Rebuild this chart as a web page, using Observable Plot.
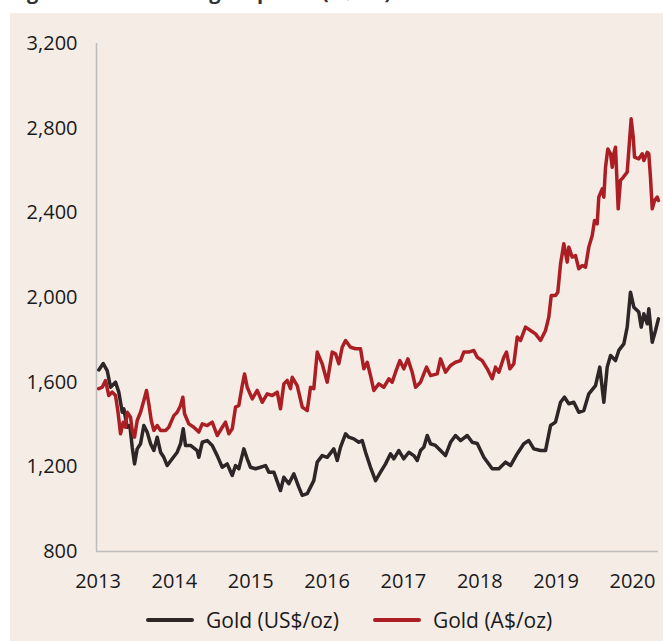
<!DOCTYPE html>
<html>
<head>
<meta charset="utf-8">
<script src="https://cdn.jsdelivr.net/npm/d3@7"></script>
<script src="https://cdn.jsdelivr.net/npm/@observablehq/plot@0.6"></script>
<style>
  html, body { margin: 0; padding: 0; background: #ffffff; width: 663px; height: 641px; overflow: hidden; font-family: "Open Sans", sans-serif; }
  #title { position: absolute; left: 10px; top: -18px; font: bold 20px/20px "Open Sans", sans-serif; color: #333333; white-space: nowrap; }
  #panel { position: absolute; left: 10px; top: 13px; width: 653px; height: 628px; background: #f5ece6; }
  #chart { position: absolute; left: 0; top: 0; }
  #legend { position: absolute; left: 136px; top: 594px; height: 26px; display: flex; align-items: center; font-size: 21px; color: #1a1a1a; white-space: nowrap; }
  .item { display: flex; align-items: center; }
  .sw { display: inline-block; width: 48px; height: 4px; border-radius: 2px; margin-right: 12px; }
</style>
</head>
<body>
<div id="title">Figure 4: Australian gold prices (A$/oz)</div>
<div id="panel">
  <div id="chart"></div>
  <div id="legend">
    <span class="item"><span class="sw" style="background:#2e2527"></span><span>Gold (US$/oz)</span></span>
    <span class="item" style="margin-left:34px"><span class="sw" style="background:#ab1f24"></span><span>Gold (A$/oz)</span></span>
  </div>
</div>
<script>
// Gold price, US$/oz (decimal year, value)
const usdYears = [2013.010,2013.068,2013.120,2013.164,2013.229,2013.272,2013.317,2013.338,2013.382,2013.417,2013.448,2013.478,2013.513,2013.557,2013.600,2013.644,2013.688,2013.731,2013.775,2013.819,2013.862,2013.906,2013.972,2014.037,2014.081,2014.116,2014.146,2014.212,2014.299,2014.320,2014.365,2014.430,2014.496,2014.561,2014.627,2014.692,2014.758,2014.801,2014.844,2014.910,2014.954,2014.997,2015.063,2015.128,2015.194,2015.237,2015.303,2015.390,2015.434,2015.499,2015.565,2015.630,2015.675,2015.740,2015.783,2015.826,2015.871,2015.936,2016.002,2016.088,2016.133,2016.176,2016.242,2016.285,2016.350,2016.416,2016.460,2016.504,2016.569,2016.635,2016.700,2016.766,2016.831,2016.874,2016.940,2017.005,2017.071,2017.136,2017.181,2017.224,2017.267,2017.312,2017.355,2017.420,2017.486,2017.551,2017.617,2017.682,2017.748,2017.836,2017.901,2017.967,2018.053,2018.163,2018.250,2018.337,2018.403,2018.491,2018.577,2018.642,2018.708,2018.796,2018.861,2018.927,2018.992,2019.058,2019.110,2019.166,2019.232,2019.297,2019.363,2019.428,2019.516,2019.572,2019.625,2019.669,2019.713,2019.778,2019.821,2019.887,2019.931,2019.974,2020.018,2020.083,2020.115,2020.149,2020.193,2020.214,2020.259,2020.302,2020.340];
const usdValues = [1658,1688,1655,1576,1600,1553,1458,1474,1387,1395,1293,1214,1285,1309,1395,1364,1309,1277,1340,1269,1245,1206,1238,1269,1309,1380,1301,1301,1277,1245,1316,1324,1301,1253,1198,1214,1159,1206,1191,1285,1238,1198,1191,1198,1206,1175,1175,1088,1151,1120,1167,1104,1065,1073,1104,1135,1222,1253,1245,1285,1230,1293,1356,1340,1332,1316,1324,1269,1198,1135,1175,1214,1262,1238,1277,1238,1269,1253,1230,1277,1293,1348,1309,1301,1277,1253,1316,1348,1324,1348,1316,1310,1245,1191,1191,1222,1206,1262,1309,1324,1285,1277,1277,1395,1411,1505,1529,1498,1505,1458,1466,1545,1584,1671,1505,1671,1726,1702,1750,1781,1860,2025,1954,1931,1860,1923,1876,1947,1789,1844,1899];

// Gold price, A$/oz (decimal year, value)
const audYears = [2013.010,2013.055,2013.098,2013.141,2013.186,2013.229,2013.259,2013.295,2013.330,2013.360,2013.382,2013.426,2013.448,2013.478,2013.513,2013.557,2013.600,2013.635,2013.665,2013.697,2013.731,2013.775,2013.819,2013.884,2013.927,2013.993,2014.037,2014.081,2014.111,2014.133,2014.189,2014.255,2014.320,2014.365,2014.430,2014.496,2014.561,2014.627,2014.670,2014.713,2014.758,2014.801,2014.844,2014.889,2014.919,2014.954,2015.020,2015.085,2015.151,2015.216,2015.282,2015.347,2015.390,2015.434,2015.478,2015.521,2015.544,2015.609,2015.675,2015.740,2015.783,2015.826,2015.871,2015.936,2016.002,2016.067,2016.111,2016.154,2016.198,2016.242,2016.307,2016.373,2016.438,2016.481,2016.526,2016.569,2016.612,2016.678,2016.743,2016.809,2016.853,2016.897,2016.953,2017.005,2017.058,2017.115,2017.159,2017.224,2017.303,2017.355,2017.443,2017.486,2017.551,2017.617,2017.682,2017.748,2017.791,2017.857,2017.922,2017.967,2018.032,2018.098,2018.163,2018.206,2018.250,2018.315,2018.350,2018.394,2018.446,2018.491,2018.534,2018.599,2018.665,2018.730,2018.796,2018.861,2018.904,2018.936,2018.992,2019.022,2019.058,2019.101,2019.145,2019.166,2019.211,2019.254,2019.297,2019.342,2019.385,2019.428,2019.473,2019.503,2019.538,2019.559,2019.604,2019.625,2019.647,2019.677,2019.713,2019.735,2019.756,2019.778,2019.813,2019.843,2019.879,2019.931,2019.952,2019.983,2020.010,2020.027,2020.083,2020.128,2020.149,2020.193,2020.214,2020.236,2020.259,2020.289,2020.324,2020.340];
const audValues = [1569,1576,1608,1537,1553,1537,1466,1356,1411,1387,1458,1434,1372,1340,1419,1458,1513,1561,1498,1419,1372,1395,1372,1372,1387,1442,1458,1490,1529,1451,1403,1387,1364,1403,1395,1411,1348,1387,1411,1356,1380,1482,1490,1584,1639,1576,1521,1561,1505,1545,1537,1553,1474,1592,1608,1569,1623,1584,1482,1466,1576,1569,1742,1687,1600,1742,1734,1687,1765,1797,1765,1758,1758,1663,1694,1631,1561,1592,1576,1616,1600,1647,1702,1663,1710,1647,1576,1600,1671,1631,1639,1710,1647,1679,1694,1702,1742,1742,1750,1718,1702,1663,1616,1671,1647,1718,1742,1663,1687,1813,1797,1860,1844,1828,1797,1844,1907,2009,2009,2025,2159,2254,2167,2238,2191,2198,2136,2151,2143,2238,2293,2364,2348,2474,2513,2474,2615,2702,2679,2615,2679,2710,2419,2553,2568,2592,2694,2844,2757,2663,2655,2679,2647,2686,2679,2568,2419,2458,2474,2458];

const yTicks = [800, 1200, 1600, 2000, 2400, 2800, 3200];
const xTicks = [2013, 2014, 2015, 2016, 2017, 2018, 2019, 2020];

const usd = usdYears.map((t, i) => ({t, v: usdValues[i]}));
const aud = audYears.map((t, i) => ({t, v: audValues[i]}));

const xDomain = [2012.98, 2020.341];

const chart = Plot.plot({
  width: 653,
  height: 583,
  marginLeft: 86,
  marginRight: 5,
  marginTop: 30,
  marginBottom: 45,
  style: {background: "transparent", fontFamily: "'Open Sans', sans-serif", fontSize: "20px", color: "#1a1a1a", overflow: "visible"},
  x: {domain: xDomain, ticks: xTicks, tickFormat: d => String(d), tickSize: 0, tickPadding: 22, label: null},
  y: {domain: [800, 3200], ticks: yTicks, tickFormat: d3.format(","), tickSize: 0, tickPadding: 19, label: null},
  marks: [
    Plot.ruleX([xDomain[0]], {stroke: "#bdbdbd", strokeWidth: 1.5}),
    Plot.ruleY([800], {stroke: "#bdbdbd", strokeWidth: 1.5}),
    Plot.lineY(usd, {x: "t", y: "v", stroke: "#2e2527", strokeWidth: 3.5}),
    Plot.lineY(aud, {x: "t", y: "v", stroke: "#ab1f24", strokeWidth: 3.5})
  ]
});
document.getElementById("chart").appendChild(chart);
</script>
</body>
</html>
